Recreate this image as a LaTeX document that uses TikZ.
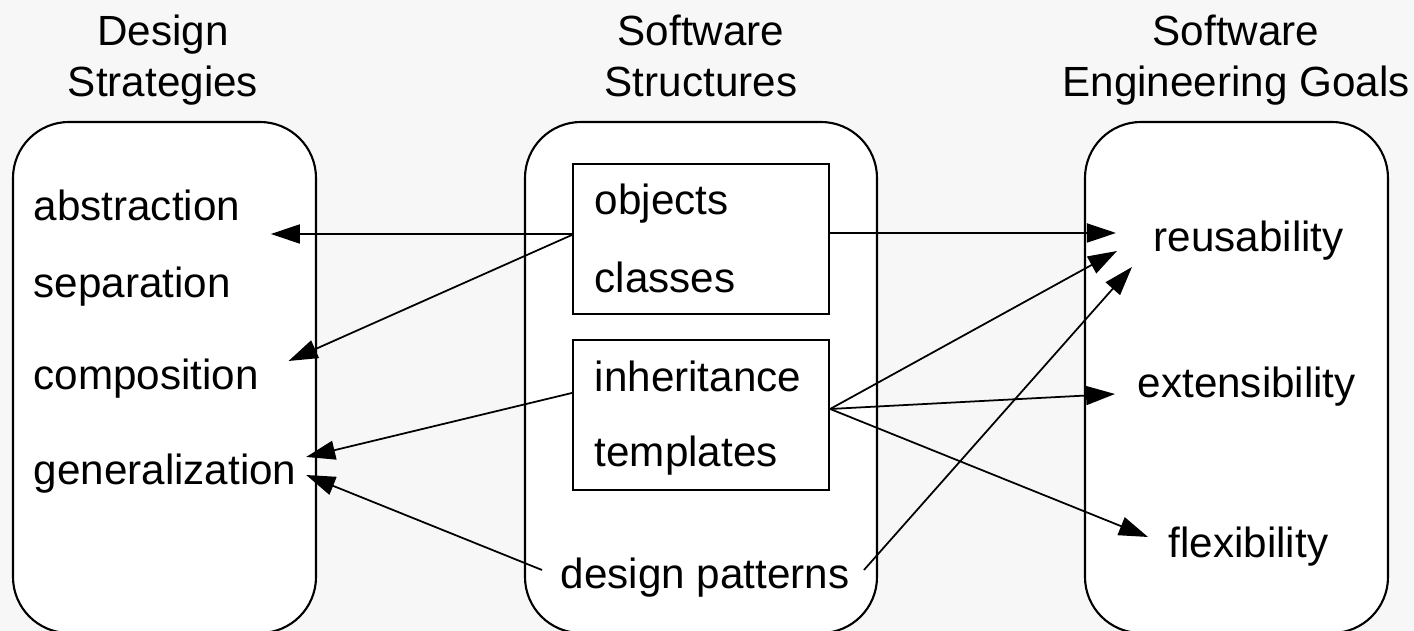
\documentclass[tikz,border=0pt]{standalone}
\usepackage{fontspec}
\setmainfont{Liberation Sans}
\usepackage{tikz}
\usetikzlibrary{arrows.meta,calc}
\definecolor{bggray}{RGB}{247,247,247}

\begin{document}
\begin{tikzpicture}[x=0.01cm, y=-0.01cm,
		every node/.style={font=\fontsize{12}{14.5}\selectfont, inner sep=0pt},
		column/.style={draw, fill=white, line width=0.6pt, rounded corners=0.56cm},
		group/.style={draw, fill=white, line width=0.6pt, minimum width=2.56cm, minimum height=1.5cm},
		heading/.style={anchor=base, align=center},
		item/.style={anchor=base west},
		arr/.style={-{Triangle[length=0.29cm, width=0.19cm]}, line width=0.5pt}]
			\useasboundingbox (0,0) rectangle (1414,631);
			\fill[bggray] (0,0) rectangle (1414,631);
			\clip (0,0) rectangle (1414,631);
			% columns
			\draw[column] (13,122) rectangle (316,633);
			\draw[column] (525,122) rectangle (877,633);
			\draw[column] (1085,122) rectangle (1388,633);
			\node (dsT) at (163,97) [heading] {Design\\Strategies};
			\node (ssT) at (701,97) [heading] {Software\\Structures};
			\node (egT) at (1236,97) [heading] {Software\\Engineering Goals};
			% design strategies
			\node (abs) at (33,221) [item] {abstraction};
			\node (sep) at (33,298) [item] {separation};
			\node (comp) at (33,390) [item] {composition};
			\node (gen) at (33,485) [item] {generalization};
			% software structures
			\node (oc) at (701,239) [group] {};
			\node (it) at (701,415) [group] {};
			\node (obj) at (594,215) [item] {objects};
			\node (cls) at (594,293) [item] {classes};
			\node (inh) at (594,392) [item] {inheritance};
			\node (tpl) at (594,467) [item] {templates};
			\node (dp) at (560,589) [item] {design patterns};
			% goals
			\node (reu) at (1153,252) [item] {reusability};
			\node (ext) at (1137,398) [item] {extensibility};
			\node (flex) at (1168,558) [item] {flexibility};
			% arrows
			\draw[arr] ($(oc.west)+(0,-5)$) -- ($(abs.base east)+(30,13)$);
			\draw[arr] ($(oc.west)+(0,-4)$) -- ($(comp.base east)+(29,-29)$);
			\draw[arr] ($(oc.east)+(0,-6)$) -- ($(reu.base west)+(-37,-19)$);
			\draw[arr] ($(it.west)+(0,-22)$) -- ($(gen.base east)+(9,-28)$);
			\draw[arr] ($(dp.base west)+(-18,-19)$) -- ($(gen.base east)+(9,-10)$);
			\draw[arr] ($(it.east)+(0,-6)$) -- ($(reu.base west)+(-36,-1)$);
			\draw[arr] ($(it.east)+(0,-6)$) -- ($(ext.base west)+(-22,-4)$);
			\draw[arr] ($(it.east)+(0,-6)$) -- ($(flex.base west)+(-20,-21)$);
			\draw[arr] ($(dp.base east)+(14,-19)$) -- ($(reu.base west)+(-21,15)$);
\end{tikzpicture}
\end{document}
